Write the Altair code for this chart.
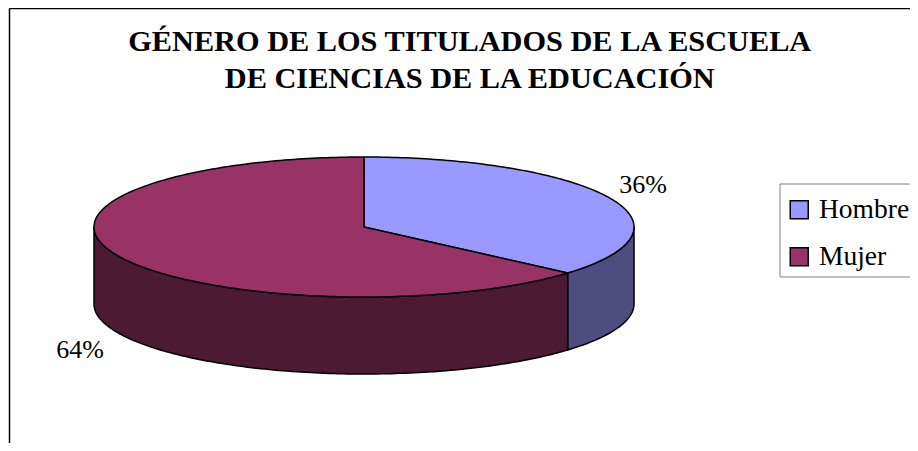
import math
import altair as alt

categories = ["Hombre", "Mujer"]
shares = [36.4, 63.6]
percent_labels = ["36%", "64%"]
top_colors = ["#9999FF", "#993366"]
side_colors = ["#4D4D80", "#4D1A33"]
title_lines = ["GÉNERO DE LOS TITULADOS DE LA ESCUELA", "DE CIENCIAS DE LA EDUCACIÓN"]

RX, RY, DEPTH = 270.0, 70.0, 77.0
PAD_L, PAD_T = 1.5, 0.5
CX, CY = 364 - 8 - PAD_L, 227 - 8 - PAD_T
TILT, DROP = RY / RX, DEPTH / RX
W, H = 900.5, 434.5


def pt(deg, drop=0.0):
    a = math.radians(deg)
    return [math.sin(a), math.cos(a) * TILT - drop]


def arc(a0, a1, drop=0.0):
    n = max(2, int(abs(a1 - a0)))
    return [pt(a0 + (a1 - a0) * i / n, drop) for i in range(n + 1)]


def feat(name, ring):
    return {"type": "Feature", "properties": {"name": name},
            "geometry": {"type": "Polygon", "coordinates": [ring + [ring[0]]]}}


edges = [0.0]
for s in shares:
    edges.append(edges[-1] + s / sum(shares) * 360)

tops = [feat(c, [[0.0, 0.0]] + arc(edges[i], edges[i + 1])) for i, c in enumerate(categories)]


def side(a0, a1):
    return arc(a0, a1) + arc(a1, a0, DROP)


side_hombre = feat("Hombre", side(90, edges[1]))
side_mujer = feat("Mujer", side(edges[1], 270))

proj = alt.Projection(type="identity", reflectY=True, scale=RX, translate=[CX, CY])
stroke = dict(stroke="black", strokeWidth=1.5, strokeJoin="round")


def side_layer(f, color):
    return alt.Chart(alt.Data(values=[f])).mark_geoshape(fill=color, **stroke).project(**proj.to_dict())


top_layer = alt.Chart(alt.Data(values=tops)).mark_geoshape(**stroke).encode(
    color=alt.Color(
        "properties.name:N",
        scale=alt.Scale(domain=categories, range=top_colors),
        legend=alt.Legend(
            title=" ", titleFontSize=1, titlePadding=5.5,
            orient="none", legendX=779.5 - 8 - PAD_L, legendY=183.5 - 8 - PAD_T,
            symbolType="square", symbolSize=324, symbolStrokeColor="black", symbolStrokeWidth=1.5,
            labelFont="Liberation Serif", labelFontSize=27.5, labelColor="black", labelOffset=6,
            labelLimit=200, rowPadding=18, padding=6,
            strokeColor="#808080", fillColor="white",
        ),
    )
).project(**proj.to_dict())


def label(text, x, y):
    return alt.Chart(alt.Data(values=[{"t": text}])).mark_text(
        font="Liberation Serif", fontSize=26, color="black", align="center", baseline="middle"
    ).encode(text="t:N", x=alt.value(x - 8 - PAD_L), y=alt.value(y - 8 - PAD_T))


frame_top = alt.Chart(alt.Data(values=[{"k": 0}])).mark_rule(color="black", strokeWidth=1.5).encode(
    x=alt.value(0), x2=alt.value(W), y=alt.value(0)
)
frame_left = alt.Chart(alt.Data(values=[{"k": 0}])).mark_rule(color="black", strokeWidth=1.5).encode(
    x=alt.value(0), y=alt.value(0), y2=alt.value(H)
)

chart = alt.layer(
    frame_top,
    frame_left,
    side_layer(side_hombre, side_colors[0]),
    side_layer(side_mujer, side_colors[1]),
    top_layer,
    label(percent_labels[0], 643, 185),
    label(percent_labels[1], 80, 350),
).properties(
    width=W,
    height=H,
    padding={"left": PAD_L, "top": PAD_T, "right": 0, "bottom": 0},
    autosize=alt.AutoSizeParams(type="none"),
    title=alt.TitleParams(
        text=title_lines, orient="top", anchor="middle", frame="group", offset=-87,
        font="Liberation Serif", fontSize=30.3, fontWeight="bold", color="black", lineHeight=37.5, dx=10,
    ),
).configure_view(stroke=None)

chart.save("out.html", embed_options={"renderer": "svg", "actions": False})
